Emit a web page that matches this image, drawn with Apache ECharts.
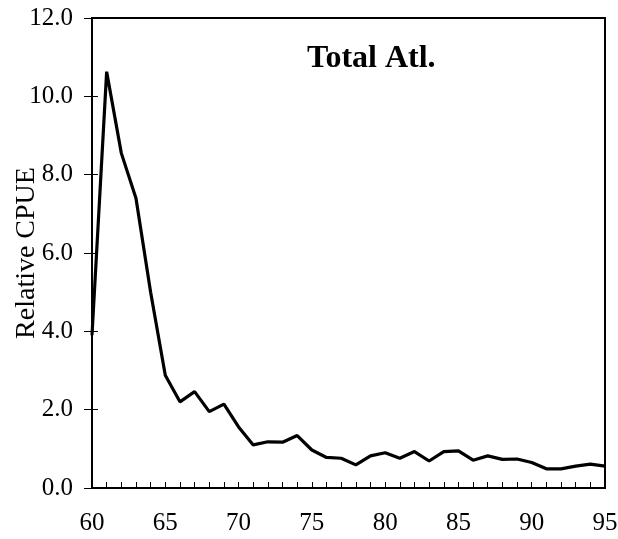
<!DOCTYPE html>
<html>
<head>
<meta charset="utf-8">
<script src="https://cdn.jsdelivr.net/npm/echarts@6/dist/echarts.min.js"></script>
<style>
  html, body { margin: 0; padding: 0; background: #fff; }
  #chart { width: 618px; height: 539px; }
</style>
</head>
<body>
<div id="chart"></div>
<script>
const years = [60, 61, 62, 63, 64, 65, 66, 67, 68, 69, 70, 71, 72, 73, 74, 75, 76, 77,
  78, 79, 80, 81, 82, 83, 84, 85, 86, 87, 88, 89, 90, 91, 92, 93, 94, 95]
const cpue = [3.9, 10.63, 8.55, 7.4, 5.0, 2.88, 2.2, 2.46, 1.95, 2.14, 1.56, 1.1, 1.18, 1.17, 1.34, 0.97, 0.78, 0.76,
  0.59, 0.82, 0.9, 0.76, 0.93, 0.69, 0.93, 0.95, 0.71, 0.82, 0.73, 0.74, 0.65, 0.49, 0.49, 0.56, 0.61, 0.56]
const yTicks = [0, 2, 4, 6, 8, 10, 12]
const titleText = 'Total Atl.'
const yName = 'Relative CPUE'

const serif = '"Liberation Serif", "DejaVu Serif", serif'

const chart = echarts.init(document.getElementById('chart'))

let option = {
  animation: false,
  title: {
    text: titleText,
    left: 302,
    top: 38,
    textStyle: { fontFamily: serif, fontWeight: 'bold', fontSize: 32, color: '#000' }
  },
  grid: {
    left: 92,
    right: 13,
    top: 18,
    bottom: 51,
    outerBoundsMode: 'none', // keep the plot box where it is, labels may sit near the edge
    show: true,
    borderColor: '#000',
    borderWidth: 2
  },
  xAxis: {
    type: 'value',
    min: 60,
    max: 95,
    interval: 1,
    splitLine: { show: false },
    axisLine: { lineStyle: { color: '#000', width: 2 } },
    axisTick: { inside: true, length: 6, lineStyle: { color: '#000', width: 1 } },
    axisLabel: {
      margin: 23,
      color: '#000',
      fontFamily: serif,
      fontSize: 25,
      showMinLabel: true,
      showMaxLabel: true,
      formatter: v => (v % 5 === 0 ? String(v) : '')
    }
  },
  yAxis: [{
    type: 'value',
    min: yTicks[0],
    max: yTicks[yTicks.length - 1],
    interval: 2,
    name: yName,
    nameLocation: 'middle',
    nameGap: 51,
    nameMoveOverlap: false,
    nameTextStyle: { fontFamily: serif, fontSize: 28, color: '#000' },
    splitLine: { show: false },
    axisLine: { lineStyle: { color: '#000', width: 2 } },
    axisTick: { length: 8, lineStyle: { color: '#000', width: 1 } },
    axisLabel: {
      margin: 19,
      color: '#000',
      fontFamily: serif,
      fontSize: 25,
      formatter: v => v.toFixed(1)
    }
  }, {
    // inner half of the crossing ticks on the left axis
    type: 'value',
    position: 'left',
    min: yTicks[0],
    max: yTicks[yTicks.length - 1],
    interval: 2,
    splitLine: { show: false },
    axisLine: { show: false },
    axisTick: { inside: true, length: 6, lineStyle: { color: '#000', width: 1 } },
    axisLabel: { show: false }
  }],
  series: [{
    type: 'line',
    data: years.map((y, i) => [y, cpue[i]]),
    symbol: 'none',
    lineStyle: { color: '#000', width: 3.2 },
    z: 3
  }]
}

chart.setOption(option)
</script>
</body>
</html>
